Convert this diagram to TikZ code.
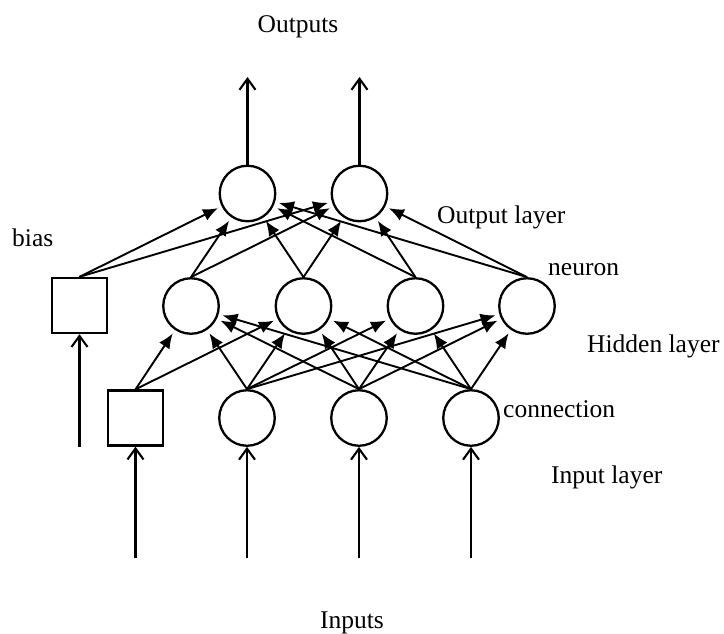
\documentclass[tikz,border=0pt]{standalone}
\usepackage{fontspec}
\setmainfont{Liberation Serif}
\usetikzlibrary{arrows.meta}
\begin{document}
\begin{tikzpicture}[x=1pt,y=-1pt,
  neuronnode/.style={circle,draw,line width=2.3pt,minimum size=55.5pt,inner sep=0pt},
  biasnode/.style={rectangle,draw,line width=2.3pt,minimum size=55pt,inner sep=0pt},
  conn/.style={line width=1.9pt,shorten >=4pt,-{Latex[length=15pt,width=12.5pt]}},
  io/.style={line width=2.1pt,-{Straight Barb[length=11pt,width=16pt,line width=2.1pt]}},
  lbl/.style={font=\fontsize{25.5}{30}\selectfont,inner sep=0pt}]
\useasboundingbox (0,0) rectangle (724,633);
% output layer
\node[neuronnode] (o1) at (247.5,193.5) {};
\node[neuronnode] (o2) at (359.5,193.5) {};
% hidden layer
\node[neuronnode] (h1) at (191,306) {};
\node[neuronnode] (h2) at (303.5,306) {};
\node[neuronnode] (h3) at (415.5,306) {};
\node[neuronnode] (h4) at (527,306) {};
% input layer
\node[neuronnode] (i1) at (247,418) {};
\node[neuronnode] (i2) at (359,418) {};
\node[neuronnode] (i3) at (471,418) {};
% bias units
\node[biasnode] (b1) at (79.5,305.5) {};
\node[biasnode] (b2) at (135.5,418) {};
% free ends
\coordinate (oe1) at (247.5,77);
\coordinate (oe2) at (359.5,77);
\coordinate (be1) at (79.5,447);
\coordinate (be2) at (135.5,558);
\coordinate (ie1) at (247,558);
\coordinate (ie2) at (359,558);
\coordinate (ie3) at (471,558);
% connections hidden -> output
\foreach \s in {b1,h1,h2,h3,h4}
  \foreach \t in {o1,o2}
    \draw[conn] (\s.north) -- (\t);
% connections input -> hidden
\foreach \s in {i1,i2,i3}
  \foreach \t in {h1,h2,h3,h4}
    \draw[conn] (\s.north) -- (\t);
\foreach \t in {h1,h2}
  \draw[conn] (b2.north) -- (\t);
% inputs and outputs
\draw[io] (o1.north) -- (oe1);
\draw[io] (o2.north) -- (oe2);
\draw[io] (be1) -- (b1.south);
\draw[io] (be2) -- (b2.south);
\draw[io] (ie1) -- (i1.south);
\draw[io] (ie2) -- (i2.south);
\draw[io] (ie3) -- (i3.south);
% labels
\node[lbl,anchor=base] (tout) at (298,32) {Outputs};
\node[lbl,anchor=base] (tin) at (352,628) {Inputs};
\node[lbl,anchor=base west] (tol) at (437,223) {Output layer};
\node[lbl,anchor=base west] (tneu) at (548,275) {neuron};
\node[lbl,anchor=base west] (thl) at (587,352) {Hidden layer};
\node[lbl,anchor=base west] (tcon) at (503,417) {connection};
\node[lbl,anchor=base west] (til) at (551,483) {Input layer};
\node[lbl,anchor=base west] (tbias) at (12,246) {bias};
\end{tikzpicture}
\end{document}
